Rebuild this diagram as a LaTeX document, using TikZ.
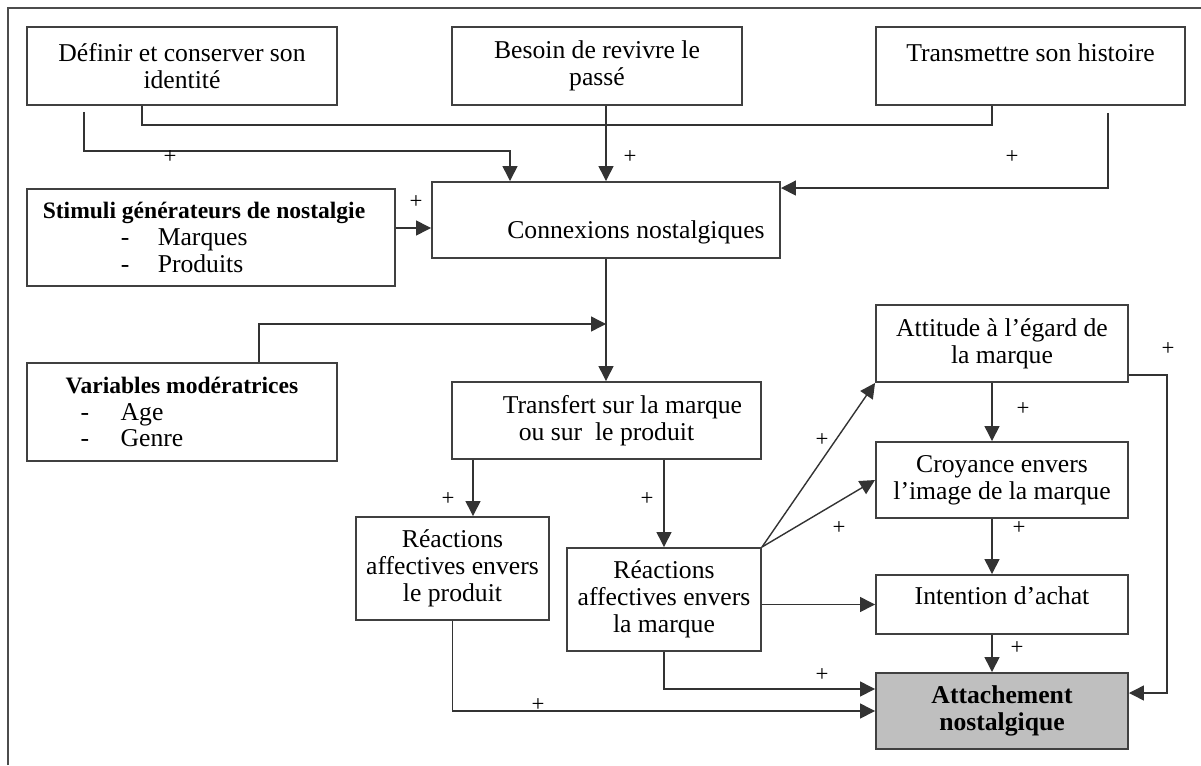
\documentclass[tikz,border=0pt]{standalone}
\usepackage{fontspec}
\setmainfont{Liberation Serif}
\usetikzlibrary{arrows.meta,calc}

\begin{document}
\begin{tikzpicture}[y=-1cm,>={Triangle[length=0.3cm,width=0.3cm]},
  box/.style={draw=black!75,line width=1.1pt,align=center,inner sep=0pt,
    font=\fontsize{14.6}{15.3}\selectfont},
  link/.style={draw=black!80,line width=0.8pt},
  plus/.style={font=\fontsize{13}{14}\selectfont,inner sep=0pt}]
  \useasboundingbox (0,0) rectangle (24.02,15.30);
  \draw[black!70,line width=1.2pt] (0.16,15.30) -- (0.16,0.16) -- (24.02,0.16);

  \node[box,minimum width=6.2cm,minimum height=1.56cm] (identite) at (3.64,1.32) {Définir et conserver son\\identité};
  \node[box,minimum width=5.8cm,minimum height=1.56cm] (passe) at (11.94,1.32) {Besoin de revivre le\\passé};
  \node[box,minimum width=6.18cm,minimum height=1.56cm] (histoire) at (20.61,1.32) {Transmettre son histoire\\\mbox{}};
  \node[box,minimum width=6.96cm,minimum height=1.52cm] (connexions) at (12.12,4.40) {\rule{0pt}{0.85cm}\hspace*{1.2cm}Connexions nostalgiques};
  \node[box,minimum width=7.36cm,minimum height=1.94cm,align=left] (stimuli) at (4.22,4.75)
    {{\fontsize{13.4}{15.3}\selectfont\bfseries Stimuli générateurs de nostalgie}\hspace*{0.28cm}\\
     \hspace*{1.56cm}\makebox[0.74cm][l]{-}Marques\\
     \hspace*{1.56cm}\makebox[0.74cm][l]{-}Produits};
  \node[box,minimum width=6.2cm,minimum height=1.96cm,align=left] (moderat) at (3.64,8.24)
    {{\fontsize{13.4}{15.3}\selectfont\bfseries Variables modératrices}\\
     \hspace*{0.30cm}\makebox[0.80cm][l]{-}Age\\
     \hspace*{0.30cm}\makebox[0.80cm][l]{-}Genre};
  \node[box,minimum width=6.18cm,minimum height=1.54cm] (transfert) at (12.13,8.41) {\hspace*{0.64cm}Transfert sur la marque\\ou sur~ le produit};
  \node[box,minimum width=3.86cm,minimum height=2.06cm] (reacprod) at (9.05,11.37) {Réactions\\affectives envers\\le produit};
  \node[box,minimum width=3.88cm,minimum height=2.06cm] (reacmarq) at (13.28,11.99) {Réactions\\affectives envers\\la marque};
  \node[box,minimum width=5.04cm,minimum height=1.54cm] (attitude) at (20.04,6.87) {Attitude à l’égard de\\la marque};
  \node[box,minimum width=5.04cm,minimum height=1.52cm] (croyance) at (20.04,9.60) {Croyance envers\\l’image de la marque};
  \node[box,minimum width=5.04cm,minimum height=1.18cm] (intention) at (20.04,12.09) {\rule[-0.34cm]{0pt}{0.34cm}Intention d’achat};
  \node[box,minimum width=5.04cm,minimum height=1.52cm,fill=black!25] (attach) at (20.04,14.22) {\textbf{Attachement}\\\textbf{nostalgique}};

  \coordinate (s1) at ([yshift=-0.16cm]connexions.west);
  \coordinate (m1) at (connexions.south |- 0,6.48);
  \coordinate (t1) at ([xshift=-2.67cm]transfert.south);

  \draw[link,->] ([xshift=-1.96cm,yshift=-0.12cm]identite.south) -- ++(0,0.78) -| ([xshift=-1.92cm]connexions.north);
  \draw[link] ([xshift=-0.8cm]identite.south) -- ++(0,0.38) -| ([xshift=-0.77cm]histoire.south);
  \draw[link,->] (passe.south -| connexions.north) -- (connexions.north);
  \draw[link,->] ([xshift=1.55cm,yshift=-0.14cm]histoire.south) |- ([yshift=-0.14cm]connexions.north east);
  \draw[link,->] (stimuli.east |- s1) -- (s1);
  \draw[link,->] (connexions.south) -- (connexions.south |- transfert.north);
  \draw[link,->] ([xshift=1.54cm]moderat.north) |- (m1);
  \draw[link,->] (t1) -- (t1 |- reacprod.north);
  \draw[link,->] (reacmarq.north |- transfert.south) -- (reacmarq.north);
  \draw[link,->] (reacmarq.north east) -- (attitude.south west);
  \draw[link,->] (reacmarq.north east) -- (croyance.west);
  \draw[link,->] (reacmarq.east |- intention.west) -- (intention.west);
  \draw[link,->] (reacmarq.south) |- ([yshift=0.44cm]attach.west);
  \draw[link,->] (reacprod.south) |- (attach.west);
  \draw[link,->] ([yshift=-0.63cm]attitude.east) -- ++(0.76,0) |- ([yshift=0.36cm]attach.east);
  \draw[link,->] ([xshift=-0.2cm]attitude.south) -- ([xshift=-0.2cm]croyance.north);
  \draw[link,->] ([xshift=-0.2cm]croyance.south) -- ([xshift=-0.2cm]intention.north);
  \draw[link,->] ([xshift=-0.2cm]intention.south) -- ([xshift=-0.2cm]attach.north);

  \node[plus] (p1) at (3.40,3.14) {+};
  \node[plus] (p2) at (12.60,3.14) {+};
  \node[plus] (p3) at (20.24,3.14) {+};
  \node[plus] (p4) at (8.32,4.04) {+};
  \node[plus] (p5) at (8.96,9.98) {+};
  \node[plus] (p6) at (12.94,9.98) {+};
  \node[plus] (p7) at (16.44,8.80) {+};
  \node[plus] (p8) at (16.78,10.56) {+};
  \node[plus] (p9) at (16.44,13.50) {+};
  \node[plus] (p10) at (10.76,14.10) {+};
  \node[plus] (p11) at (23.36,6.98) {+};
  \node[plus] (p12) at (20.46,8.18) {+};
  \node[plus] (p13) at (20.38,10.56) {+};
  \node[plus] (p14) at (20.34,12.96) {+};
\end{tikzpicture}
\end{document}
